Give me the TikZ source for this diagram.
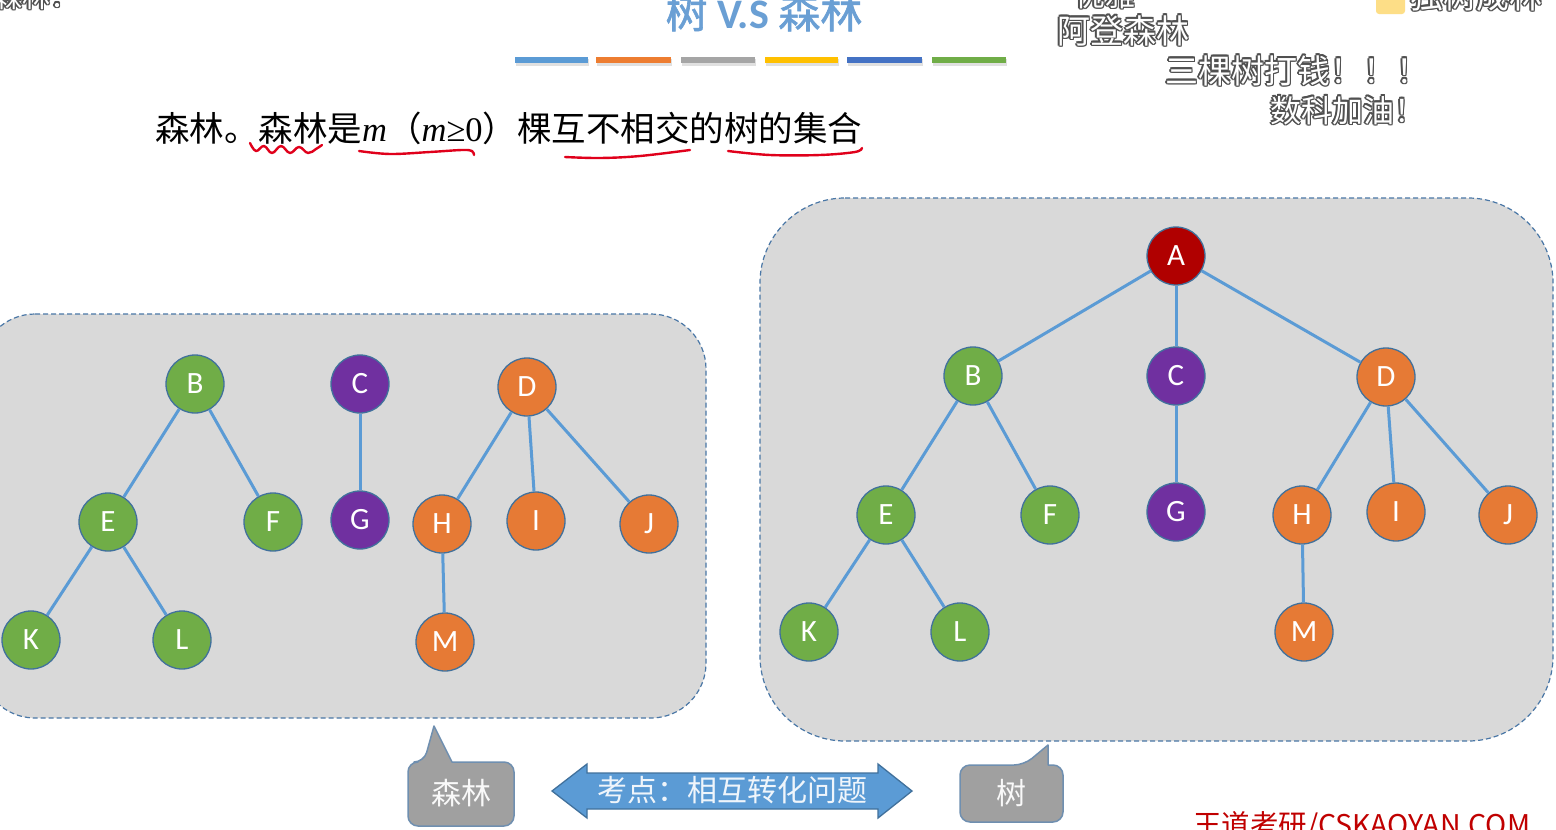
\documentclass[tikz,border=0pt]{standalone}
\usepackage{fontspec}
\setmainfont{Liberation Serif}
\newfontfamily\cjk{Noto Sans CJK SC}
\newfontfamily\cjkb[FakeBold=1.5]{Noto Sans CJK SC}
\newfontfamily\nodefont{Carlito}
\newfontfamily\tnr{Liberation Serif}
\usetikzlibrary{calc}
\definecolor{edgeblue}{HTML}{5B9BD5}
\definecolor{ngreen}{HTML}{70AD47}
\definecolor{npurple}{HTML}{7030A0}
\definecolor{norange}{HTML}{E67A35}
\definecolor{nred}{HTML}{B00000}
\definecolor{nborder}{HTML}{41719C}
\definecolor{boxfill}{HTML}{D9D9D9}
\definecolor{boxborder}{HTML}{4A77A6}
\definecolor{calfill}{HTML}{A0A0A0}
\definecolor{calborder}{HTML}{6F8FB0}
\definecolor{titleblue}{HTML}{6A9FD4}
\definecolor{penred}{HTML}{E0001B}
\definecolor{wmred}{HTML}{C00000}
\definecolor{dmgray}{HTML}{505050}
\definecolor{barblue}{HTML}{5B9BD5}
\definecolor{barorange}{HTML}{ED7D31}
\definecolor{bargray}{HTML}{A5A5A5}
\definecolor{baryellow}{HTML}{FFC000}
\definecolor{bardblue}{HTML}{4472C4}
\definecolor{bargreen}{HTML}{70AD47}
\newcommand\danmu[5]{%
  \foreach \dx/\dy in {-1.6/0,1.6/0,0/-1.6,0/1.6,-1.1/-1.1,1.1/1.1,-1.1/1.1,1.1/-1.1}{%
    \node[anchor=base west,text=dmgray,inner sep=0,font=\cjk\fontsize{#4}{#4}\selectfont] at (#2+\dx,#3+\dy) {#5};}
  \node[anchor=base west,text=white,inner sep=0,font=\cjk\fontsize{#4}{#4}\selectfont] (#1) at (#2,#3) {#5};}
\begin{document}
\begin{tikzpicture}[x=1pt,y=-1pt,
  tn/.style={circle,minimum size=58pt,inner sep=0pt,draw=nborder,line width=1.3pt,text=white,
    font=\nodefont\fontsize{31pt}{31pt}\selectfont},
  gn/.style={tn,fill=ngreen},
  pn/.style={tn,fill=npurple},
  on/.style={tn,fill=norange},
  rn/.style={tn,fill=nred},
  edge/.style={draw=edgeblue,line width=3pt},
  region/.style={fill=boxfill,draw=boxborder,line width=1.2pt,dash pattern=on 5pt off 3pt},
  callout/.style={fill=calfill,draw=calborder,line width=1.5pt,line join=round},
  caltext/.style={text=white!95!gray,font=\cjk\fontsize{30pt}{30pt}\selectfont},
  pen/.style={draw=penred,line width=2.4pt,line cap=round,line join=round}
]
\useasboundingbox (0,0) rectangle (1556,830);
\clip (0,0) rectangle (1556,830);
\fill[white] (0,0) rectangle (1556,830);

% title
\node[anchor=base,text=titleblue,inner sep=0] (title) at (764,28)
  {\cjkb\fontsize{42pt}{42pt}\selectfont 树 {\nodefont\bfseries V.S} 森林};
% color bars
\foreach \xa/\xb/\c in {515/588/barblue,596/671/barorange,681/755/bargray,765/838/baryellow,847/922/bardblue,932/1006/bargreen}{
  \fill[black!12] (\xa+1,59) rectangle (\xb+1,66);
  \fill[\c] (\xa,57) rectangle (\xb,63);
}

% definition
\node[anchor=base west,inner sep=0] (def) at (155,141)
  {\cjk\fontsize{34.5pt}{34.5pt}\selectfont 森林。森林是{\tnr\itshape m}（{\tnr\itshape m}{\tnr ≥0}）棵互不相交的树的集合};
\draw[pen] plot[smooth,tension=0.7] coordinates {(250,143) (256,151) (264,146) (272,153) (281,146) (290,153) (299,147) (308,153) (316,149) (322,145)};
\draw[pen] plot[smooth,tension=0.6] coordinates {(359,151) (390,154) (430,152) (462,150) (472,151) (474,155)};
\draw[pen] plot[smooth,tension=0.6] coordinates {(565,157) (600,158) (640,156) (690,150)};
\draw[pen] plot[smooth,tension=0.6] coordinates {(728,151) (770,155) (820,155) (855,152) (862,148)};

% danmaku
\danmu{dmA}{-6}{7}{28pt}{森林：}
\danmu{dmB}{1075}{6}{30pt}{优雅}
\fill[yellow!50!orange!45] (1376,-12) [rounded corners=3] -- (1405,-12) -- (1405,14) -- (1376,14) -- cycle;
\danmu{dmC}{1410}{8}{33pt}{独树成林}
\danmu{dmD}{1057}{43}{33pt}{阿登森林}
\danmu{dmE}{1165}{83}{33pt}{三棵树打钱！！！}
\danmu{dmF}{1270}{122}{31pt}{数科加油！}

% left region: forest
\draw[region] (-20,314) [rounded corners=55] -- (706,314) -- (706,718) -- (-20,718) -- cycle;
\node[gn] (fB) at (195,384) {B};
\node[pn] (fC) at (360,384) {C};
\node[on] (fD) at (527,387) {D};
\node[gn] (fE) at (108,522) {E};
\node[gn] (fF) at (273,522) {F};
\node[pn] (fG) at (360,520) {G};
\node[on] (fH) at (442,524) {H};
\node[on] (fI) at (536,521) {I};
\node[on] (fJ) at (649,524) {J};
\node[gn] (fK) at (31,640) {K};
\node[gn] (fL) at (182,640) {L};
\node[on] (fM) at (445,642) {M};
\draw[edge] (fB) -- (fE);
\draw[edge] (fB) -- (fF);
\draw[edge] (fE) -- (fK);
\draw[edge] (fE) -- (fL);
\draw[edge] (fC) -- (fG);
\draw[edge] (fD) -- (fH);
\draw[edge] (fD) -- (fI);
\draw[edge] (fD) -- (fJ);
\draw[edge] (fH) -- (fM);

% right region: tree
\draw[region] (760,198) [rounded corners=85] -- (1553,198) -- (1553,741) -- (760,741) -- cycle;
\node[rn] (tA) at (1176,256) {A};
\node[gn] (tB) at (973,376) {B};
\node[pn] (tC) at (1176,376) {C};
\node[on] (tD) at (1386,377) {D};
\node[gn] (tE) at (886,515) {E};
\node[gn] (tF) at (1050,515) {F};
\node[pn] (tG) at (1176,512) {G};
\node[on] (tH) at (1302,515) {H};
\node[on] (tI) at (1396,512) {I};
\node[on] (tJ) at (1508,515) {J};
\node[gn] (tK) at (809,632) {K};
\node[gn] (tL) at (960,632) {L};
\node[on] (tM) at (1304,632) {M};
\draw[edge] (tA) -- (tB);
\draw[edge] (tA) -- (tC);
\draw[edge] (tA) -- (tD);
\draw[edge] (tB) -- (tE);
\draw[edge] (tB) -- (tF);
\draw[edge] (tE) -- (tK);
\draw[edge] (tE) -- (tL);
\draw[edge] (tC) -- (tG);
\draw[edge] (tD) -- (tH);
\draw[edge] (tD) -- (tI);
\draw[edge] (tD) -- (tJ);
\draw[edge] (tH) -- (tM);

% callouts
\draw[callout] (461,826) [rounded corners=10] -- (408,826) -- (408,762) -- (424,762) [sharp corners] -- (434,726) -- (452,762) [rounded corners=10] -- (514,762) -- (514,826) -- cycle;
\node[caltext] (cF) at (461,793) {森林};
\draw[callout] (1011,822) [rounded corners=10] -- (960,822) -- (960,765) -- (1024,765) [sharp corners] -- (1048,745) -- (1048,765) [rounded corners=10] -- (1063,765) -- (1063,822) -- cycle;
\node[caltext] (cT) at (1011,793) {树};

% double arrow
\draw[fill=edgeblue,draw=nborder,line width=1.3pt,line join=miter]
  (552,791) -- (587,764) -- (587,773) -- (878,773) -- (878,764) -- (912,791)
  -- (878,818) -- (878,809) -- (587,809) -- (587,818) -- cycle;
\node[text=white!90!edgeblue,font=\cjk\fontsize{30pt}{30pt}\selectfont] (kd) at (732,790) {考点：相互转化问题};

% watermark
\node[anchor=base west,inner sep=0,text=wmred,font=\cjk\fontsize{28.5pt}{28.5pt}\selectfont] (wm) at (1193,835) {王道考研/CSKAOYAN.COM};
\end{tikzpicture}
\end{document}
